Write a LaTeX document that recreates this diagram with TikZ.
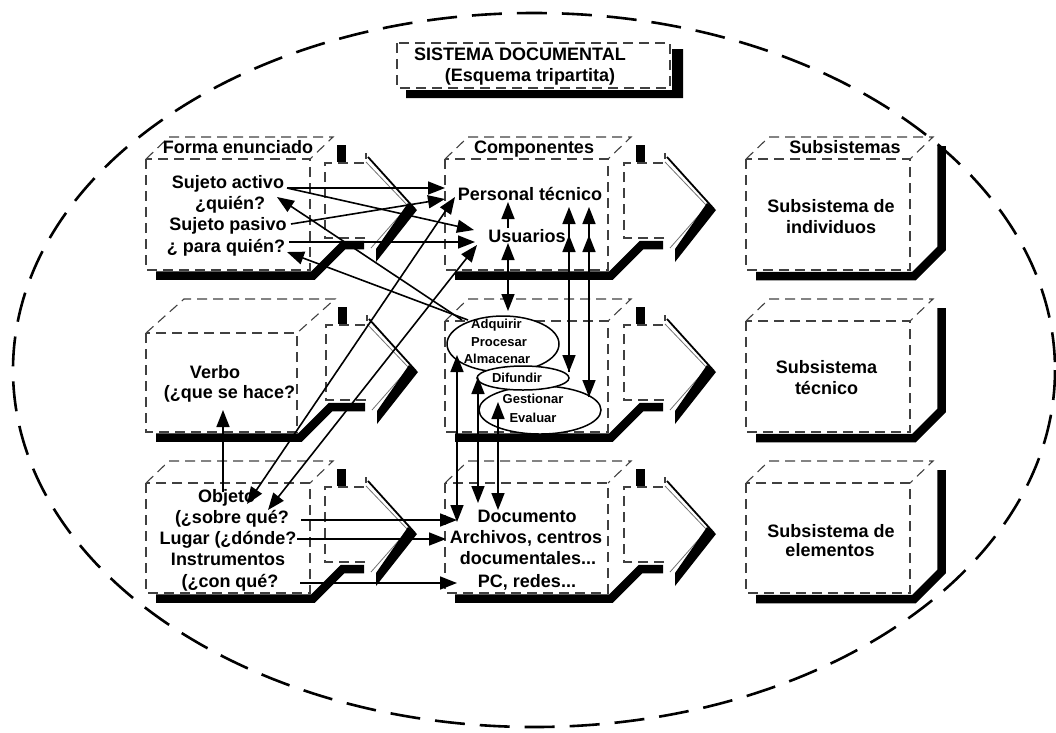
\documentclass[tikz,border=0pt]{standalone}
\usepackage{fontspec}
\setmainfont{Liberation Sans}
\usetikzlibrary{arrows.meta,shapes.geometric}

% front face + top face of a dashed cube: x0 y0 x1 y1 dx dy
\newcommand{\cubeface}[6]{%
  \draw[facedash] (#1,#2) rectangle (#3,#4);
  \draw[facedash] (#1,#2) -- (#1+#5,#2-#6) -- (#3+#5,#2-#6) -- (#3,#2);
}
% L-shaped shadow of a plain cube: x0 x1 y1 ytop
\newcommand{\cubeshadow}[4]{%
  \draw[shadebar] (#1+10,#3+6) -- (#2+4,#3+6) -- (#2+31.5,#3-21.5) -- (#2+31.5,#4+9);
}
% shadow of a cube with an arrow panel in front: x0 x1 y1 px py vtop
\newcommand{\panelshadow}[6]{%
  \draw[shadebar] (#1+10,#3+5.5) -- (#2+3,#3+5.5) -- ({#2+3+#3+5.5-#5-82},#5+82) -- (#4+39,#5+82);
  \fill (#4+11.5,#6) rectangle (#4+20.5,#5-1);
  \draw[facedash] (#4+40,#5+75) -- (#4,#5+75) -- (#4,#5) -- (#4+41,#5) -- (#4+41,#5-10);
  \draw[line width=1.8pt] (#4+43,#5-6) -- (#4+90,#5+46);
  \draw[black!55,line width=0.8pt] (#4+41,#5-1) -- (#4+83,#5+43) -- (#4+46,#5+85);
  \fill (#4+83,#5+40) -- (#4+92,#5+47) -- (#4+51,#5+99) -- (#4+51,#5+86) -- cycle;
}

\begin{document}
\begin{tikzpicture}[x=1pt,y=-1pt,
  every node/.style={inner sep=0pt, font=\bfseries\fontsize{18}{21}\selectfont},
  lbl/.style={anchor=base},
  small/.style={anchor=base, font=\bfseries\fontsize{13}{15}\selectfont},
  facedash/.style={draw=black!75, line width=1.1pt, dash pattern=on 10pt off 6pt},
  shadebar/.style={line width=8.5pt, line join=miter, line cap=butt},
  bubble/.style={shape=ellipse, draw, line width=1.5pt, fill=white},
  link/.style={line width=1.6pt, -{Triangle[length=17pt,width=13pt]}},
  both/.style={line width=1.6pt, {Triangle[length=17pt,width=13pt]}-{Triangle[length=17pt,width=13pt]}}
]
\useasboundingbox (0,0) rectangle (1056,732);

% outer system boundary
\draw[line width=2.6pt, dash pattern=on 30pt off 15pt] (534,370) ellipse [x radius=521, y radius=357];

% title box
\fill (406,90) -- (672,90) -- (672,49) -- (683,49) -- (683,98) -- (406,98) -- cycle;
\draw[facedash] (397,43) rectangle (670,88);
\node[lbl] (title1) at (520,60) {SISTEMA DOCUMENTAL};
\node[lbl] (title2) at (530,81) {(Esquema tripartita)};

% row 1
\panelshadow{146}{310}{270}{325}{163}{145}
\cubeface{146}{159}{310}{270}{23}{22}
\panelshadow{445}{608}{270}{624}{163}{145}
\cubeface{445}{159}{608}{270}{23}{22}
\cubeshadow{746}{910}{270}{137}
\cubeface{746}{159}{910}{270}{23}{22}

% row 2
\panelshadow{146}{297}{432}{326}{325}{307}
\cubeface{146}{333}{297}{432}{38}{34}
\panelshadow{445}{608}{432}{624}{325}{307}
\cubeface{445}{321}{608}{432}{23}{22}
\cubeshadow{746}{910}{432}{299}
\cubeface{746}{321}{910}{432}{23}{22}

% row 3
\panelshadow{146}{310}{593}{325}{487}{469}
\cubeface{146}{483}{310}{593}{23}{22}
\panelshadow{445}{608}{593}{624}{487}{469}
\cubeface{445}{483}{608}{593}{23}{22}
\cubeshadow{746}{910}{593}{461}
\cubeface{746}{483}{910}{593}{23}{22}

% column headings
\node[lbl] (hForma) at (238,153) {Forma enunciado};
\node[lbl] (hComp) at (534,153) {Componentes};
\node[lbl] (hSub) at (845,153) {Subsistemas};

% statement form
\node[lbl] (sActivo) at (228,188) {Sujeto activo};
\node[lbl] (quien) at (230,209) {¿quién?};
\node[lbl] (sPasivo) at (228,230) {Sujeto pasivo};
\node[lbl] (paraQuien) at (226,252) {¿ para quién?};
\node[lbl] (verbo) at (215,378) {Verbo};
\node[lbl] (queHace) at (229.5,398) {(¿que se hace?};
\node[lbl] (objeto) at (226.5,502) {Objeto};
\node[lbl] (sobreQue) at (232,523) {(¿sobre qué?};
\node[lbl] (lugar) at (228,544) {Lugar (¿dónde?};
\node[lbl] (instr) at (228,565) {Instrumentos};
\node[lbl] (conQue) at (230,587) {(¿con qué?};

% components
\node[lbl] (personal) at (530,200) {Personal técnico};
\node[lbl] (usuarios) at (527,242) {Usuarios};
\node[lbl] (documento) at (527,522) {Documento};
\node[lbl] (archivos) at (526,543) {Archivos, centros};
\node[lbl] (documentales) at (528,564) {documentales...};
\node[lbl] (pcRedes) at (527,587) {PC, redes...};

% subsystems
\node[lbl] (subInd1) at (831,212) {Subsistema de};
\node[lbl] (subInd2) at (831,233) {individuos};
\node[lbl] (subTec1) at (826.5,373) {Subsistema};
\node[lbl] (subTec2) at (826.5,394) {técnico};
\node[lbl] (subEle1) at (831,537) {Subsistema de};
\node[lbl] (subEle2) at (830,556) {elementos};

% processes
\node[bubble, minimum width=112pt, minimum height=56pt] (procA) at (503,344) {};
\node[bubble, minimum width=122pt, minimum height=48pt] (procC) at (540,410) {};
\node[bubble, minimum width=92pt, minimum height=24pt] (procB) at (523,378) {};
\node[small] (adquirir) at (496.5,328) {Adquirir};
\node[small] (procesar) at (499,346) {Procesar};
\node[small] (almacenar) at (497,363) {Almacenar};
\node[small] (difundir) at (517,382) {Difundir};
\node[small] (gestionar) at (533,403) {Gestionar};
\node[small] (evaluar) at (533,422) {Evaluar};

% connector end points
\coordinate (activoR) at (287,188);
\coordinate (pasivoR) at (291,224);
\coordinate (paraR) at (289,242);
\coordinate (quienIn) at (277,197);
\coordinate (paraIn) at (287,252);
\coordinate (personalL) at (445,188);
\coordinate (personalL2) at (445,199);
\coordinate (personalSW) at (455,197);
\coordinate (usuariosL) at (474,230);
\coordinate (usuariosL2) at (475,242);
\coordinate (usuariosSW) at (477,245);
\coordinate (objetoA) at (247,504);
\coordinate (objetoB) at (268,510);
\coordinate (objetoTop) at (223,492);
\coordinate (verboIn) at (223,410);
\coordinate (procANW1) at (462,320);
\coordinate (procANW2) at (468,320);
\coordinate (usuariosUp) at (508,228);
\coordinate (personalUp) at (508,202);
\coordinate (usuariosDn) at (508,243);
\coordinate (procATop) at (508,311);
\coordinate (procBTop) at (569,372);
\coordinate (procCTop) at (589,397);
\coordinate (personalD1) at (569,207);
\coordinate (personalD2) at (589,207);
\coordinate (usuariosD1) at (569,235);
\coordinate (usuariosD2) at (589,235);
\coordinate (procABot) at (457,355);
\coordinate (procBBot) at (478,377);
\coordinate (procCBot) at (498,402);
\coordinate (documentoA) at (457,522);
\coordinate (documentoB) at (478,503);
\coordinate (documentoC) at (498,510);
\coordinate (sobreR) at (301,520);
\coordinate (lugarR) at (297,539);
\coordinate (conR) at (300,583);
\coordinate (documentoL) at (457,520);
\coordinate (archivosL) at (446,539);
\coordinate (pcL) at (457,583);

% connectors
\draw[link] (activoR) -- (personalL);
\draw[link] (activoR) -- (usuariosL);
\draw[link] (pasivoR) -- (personalL2);
\draw[link] (paraR) -- (usuariosL2);
\draw[link] (procANW1) -- (quienIn);
\draw[link] (procANW2) -- (paraIn);
\draw[both] (objetoA) -- (personalSW);
\draw[both] (objetoB) -- (usuariosSW);
\draw[link] (objetoTop) -- (verboIn);
\draw[link] (usuariosUp) -- (personalUp);
\draw[both] (usuariosDn) -- (procATop);
\draw[both] (procBTop) -- (personalD1);
\draw[link] (procBTop) -- (usuariosD1);
\draw[both] (procCTop) -- (personalD2);
\draw[link] (procCTop) -- (usuariosD2);
\draw[both] (procABot) -- (documentoA);
\draw[both] (procBBot) -- (documentoB);
\draw[both] (procCBot) -- (documentoC);
\draw[link] (sobreR) -- (documentoL);
\draw[link] (lugarR) -- (archivosL);
\draw[link] (conR) -- (pcL);
\end{tikzpicture}
\end{document}
